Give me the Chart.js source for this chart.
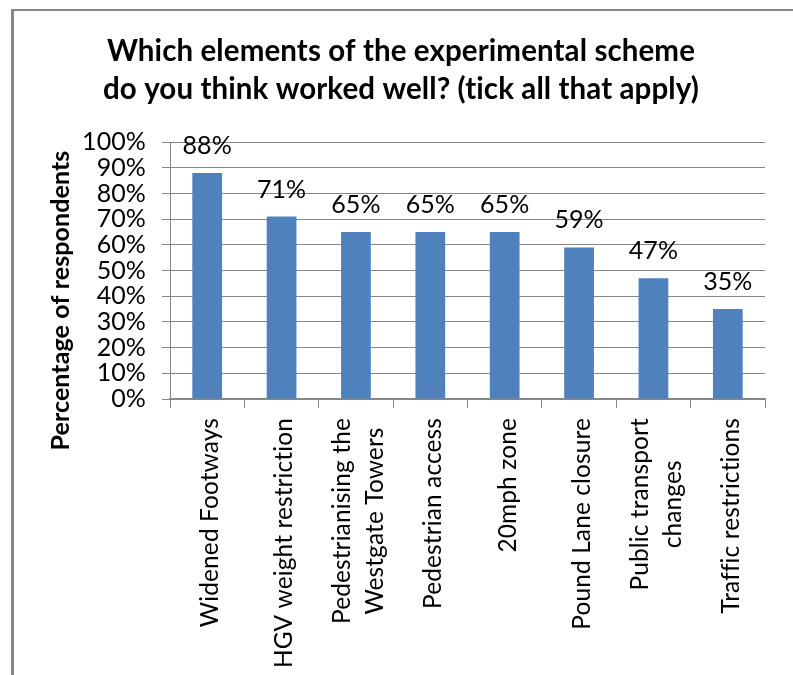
<!DOCTYPE html>
<html lang="en">
<head>
<meta charset="UTF-8">
<title>Experimental scheme survey</title>
<script src="https://cdn.jsdelivr.net/npm/chart.js"></script>
<style>
  html, body { margin: 0; padding: 0; background: #fff; overflow: hidden; }
  #frame {
    position: absolute; left: 11px; top: 9px; width: 820px; height: 700px;
    border-left: 3px solid #878787; border-top: 2px solid #878787;
  }
  #wrap { position: absolute; left: 0; top: 0; width: 793px; height: 675px; }
</style>
</head>
<body>
<div id="frame"></div>
<div id="wrap"><canvas id="chart" width="793" height="675"></canvas></div>
<script>
const titleLines = ['Which elements of the experimental scheme', 'do you think worked well? (tick all that apply)'];
const yAxisTitle = 'Percentage of respondents';
const categories = [
  ['Widened Footways'],
  ['HGV weight restriction'],
  ['Pedestrianising the', 'Westgate Towers'],
  ['Pedestrian access'],
  ['20mph zone'],
  ['Pound Lane closure'],
  ['Public transport', 'changes'],
  ['Traffic restrictions']
];
const percentages = [88, 71, 65, 65, 65, 59, 47, 35];
const yTickValues = [0, 10, 20, 30, 40, 50, 60, 70, 80, 90, 100];

const FONT = 'Lato, "Open Sans", sans-serif';
const AXIS_GREY = '#878787';

// a hair of letter spacing keeps Lato from joining "ti" into a ligature
const noLigatures = {
  id: 'noLigatures',
  beforeUpdate(chart) { chart.ctx.letterSpacing = '0.1px'; },
  beforeDraw(chart) { chart.ctx.letterSpacing = '0.1px'; }
};

// value labels, rotated category names and the vertical axis title
const annotate = {
  id: 'annotate',
  afterDatasetsDraw(chart) {
    const ctx = chart.ctx;
    const xs = chart.scales.x;
    const area = chart.chartArea;
    ctx.save();
    ctx.fillStyle = '#000';
    ctx.textAlign = 'center';
    ctx.textBaseline = 'middle';

    ctx.font = '25px ' + FONT;
    chart.getDatasetMeta(0).data.forEach((bar, i) => {
      ctx.fillText(percentages[i] + '%', bar.x, bar.y - 27);
    });

    ctx.font = '24.5px ' + FONT;
    categories.forEach((lines, i) => {
      const cx = xs.getPixelForValue(i) + 3;
      const longest = Math.max(...lines.map(l => ctx.measureText(l).width));
      lines.forEach((line, j) => {
        ctx.save();
        ctx.translate(cx + (j - (lines.length - 1) / 2) * 33, xs.top + 19 + longest / 2);
        ctx.rotate(-Math.PI / 2);
        ctx.fillText(line, 0, 0);
        ctx.restore();
      });
    });

    ctx.font = 'bold 25px ' + FONT;
    ctx.translate(61, (area.top + area.bottom) / 2 + 30);
    ctx.rotate(-Math.PI / 2);
    ctx.fillText(yAxisTitle, 0, 0);
    ctx.restore();
  }
};

new Chart(document.getElementById('chart'), {
  type: 'bar',
  data: {
    labels: categories,
    datasets: [{
      data: percentages,
      backgroundColor: '#4F81BD',
      borderWidth: 0,
      categoryPercentage: 1,
      barPercentage: 0.4
    }]
  },
  options: {
    responsive: false,
    animation: false,
    layout: { padding: { top: 10, left: 37, right: 28, bottom: 0 } },
    plugins: {
      legend: { display: false },
      tooltip: { enabled: false },
      title: {
        display: true,
        text: titleLines,
        color: '#000',
        font: { family: FONT, size: 29.5, weight: 'bold', lineHeight: 1.29 },
        padding: { top: 22, bottom: 34 }
      }
    },
    scales: {
      x: {
        grid: { offset: true, drawOnChartArea: false, tickLength: 9, color: AXIS_GREY },
        border: { color: AXIS_GREY, width: 1.5 },
        ticks: { display: false },
        afterFit: s => { s.height = 276; }
      },
      y: {
        min: 0,
        max: 100,
        afterBuildTicks: s => { s.ticks = yTickValues.map(v => ({ value: v })); },
        ticks: {
          autoSkip: false,
          callback: v => v + '%',
          color: '#000',
          font: { family: FONT, size: 25 },
          padding: 16
        },
        grid: { color: AXIS_GREY, tickLength: 8 },
        border: { color: AXIS_GREY, width: 1 },
        afterFit: s => { s.width = 133; }
      }
    }
  },
  plugins: [noLigatures, annotate]
});
</script>
</body>
</html>
